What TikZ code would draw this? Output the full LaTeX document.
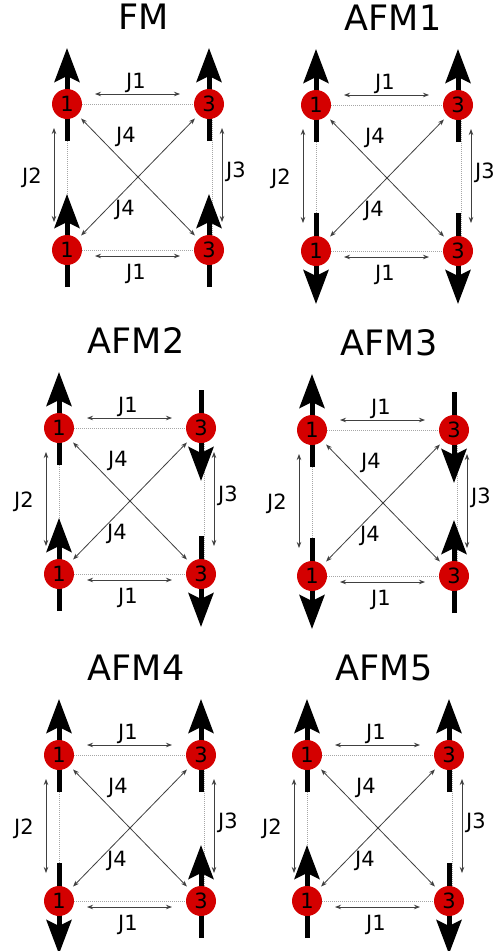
\documentclass[tikz,border=0pt]{standalone}
\usepackage{fontspec}
\setmainfont{DejaVu Sans}
\usetikzlibrary{arrows.meta,calc}
\pgfdeclarelayer{bg}
\pgfsetlayers{bg,main}
\definecolor{sitered}{RGB}{212,0,0}
\tikzset{
  site/.style={circle, fill=sitered, minimum size=30pt, inner sep=0pt,
    font=\fontsize{21}{21}\selectfont, text=black},
  spin/.style={line width=5pt, -{Stealth[length=34pt,width=25pt,inset=6pt]}},
  bond/.style={draw=gray!70, line width=0.8pt, dash pattern=on 1pt off 1pt},
  jarrow/.style={draw=black!75, line width=0.8pt,
    {Stealth[length=6pt,width=4.5pt]}-{Stealth[length=6pt,width=4.5pt]}},
  jdiag/.style={jarrow, shorten <=5pt, shorten >=5pt},
  jlabel/.style={font=\fontsize{21}{21}\selectfont, inner sep=0pt},
  paneltitle/.style={font=\fontsize{35}{35}\selectfont, inner sep=0pt, anchor=base},
}
\newcommand{\spinU}[1]{\draw[spin] ($(#1)+(0,37)$) -- ($(#1)+(0,-56)$);}
\newcommand{\spinD}[1]{\draw[spin] ($(#1)+(0,-38)$) -- ($(#1)+(0,53)$);}
\newcommand{\spinpanel}[8]{%
  \node[site] (#1a) at (#2,#3) {1};
  \node[site] (#1b) at (#2+142,#3) {3};
  \node[site] (#1c) at (#2,#3+146) {1};
  \node[site] (#1d) at (#2+142,#3+146) {3};
  \node[paneltitle] (#1t) at (#2+77,#3-74.5) {#4};
  \begin{pgfonlayer}{bg}
    \draw[bond] (#1a) -- (#1b);
    \draw[bond] (#1c) -- (#1d);
    \draw[bond] (#1a) -- (#1c);
    \draw[bond] ([xshift=3pt]#1b.center) -- ([xshift=3pt]#1d.center);
    #5{#1a} #6{#1b} #7{#1c} #8{#1d}
  \end{pgfonlayer}
  \coordinate (#1p1) at ($(#1a)+(28,-10)$);
  \coordinate (#1p2) at ($(#1b)+(-29,-10)$);
  \coordinate (#1p3) at ($(#1c)+(28,6)$);
  \coordinate (#1p4) at ($(#1d)+(-29,6)$);
  \coordinate (#1p5) at ($(#1a)+(-13,24)$);
  \coordinate (#1p6) at ($(#1c)+(-13,-28)$);
  \coordinate (#1p7) at ($(#1b)+(13,24)$);
  \coordinate (#1p8) at ($(#1d)+(13,-28)$);
  \draw[jarrow] (#1p1) -- (#1p2);
  \draw[jarrow] (#1p3) -- (#1p4);
  \draw[jarrow] (#1p5) -- (#1p6);
  \draw[jarrow] (#1p7) -- (#1p8);
  \draw[jdiag] (#1a) -- (#1d);
  \draw[jdiag] (#1b) -- (#1c);
  \node[jlabel] (#1l1) at ($(#1a)!0.5!(#1b)+(-2,-21)$) {J1};
  \node[jlabel] (#1l2) at ($(#1c)!0.5!(#1d)+(-2,24)$) {J1};
  \node[jlabel] (#1l3) at ($(#1a)!0.5!(#1c)+(-35,1)$) {J2};
  \node[jlabel] (#1l4) at ($(#1b)!0.5!(#1d)+(27,-5)$) {J3};
  \node[jlabel] (#1l5) at ($(#1a)!0.5!(#1d)+(-12,-40)$) {J4};
  \node[jlabel] (#1l6) at ($(#1a)!0.5!(#1d)+(-13,33)$) {J4};
}
\begin{document}
\begin{tikzpicture}[x=1pt,y=-1pt]
\useasboundingbox (0,0) rectangle (500,951);
\begin{pgfonlayer}{bg}
  \fill[white] (0,0) rectangle (500,951);
\end{pgfonlayer}
\spinpanel{fm}{67}{104}{FM}{\spinU}{\spinU}{\spinU}{\spinU}
\spinpanel{aa}{316}{105}{AFM1}{\spinU}{\spinU}{\spinD}{\spinD}
\spinpanel{ab}{59}{428}{AFM2}{\spinU}{\spinD}{\spinU}{\spinD}
\spinpanel{ac}{312}{430}{AFM3}{\spinU}{\spinD}{\spinD}{\spinU}
\spinpanel{ad}{59}{755}{AFM4}{\spinU}{\spinU}{\spinD}{\spinU}
\spinpanel{ae}{307}{755}{AFM5}{\spinU}{\spinU}{\spinU}{\spinD}
\end{tikzpicture}
\end{document}
